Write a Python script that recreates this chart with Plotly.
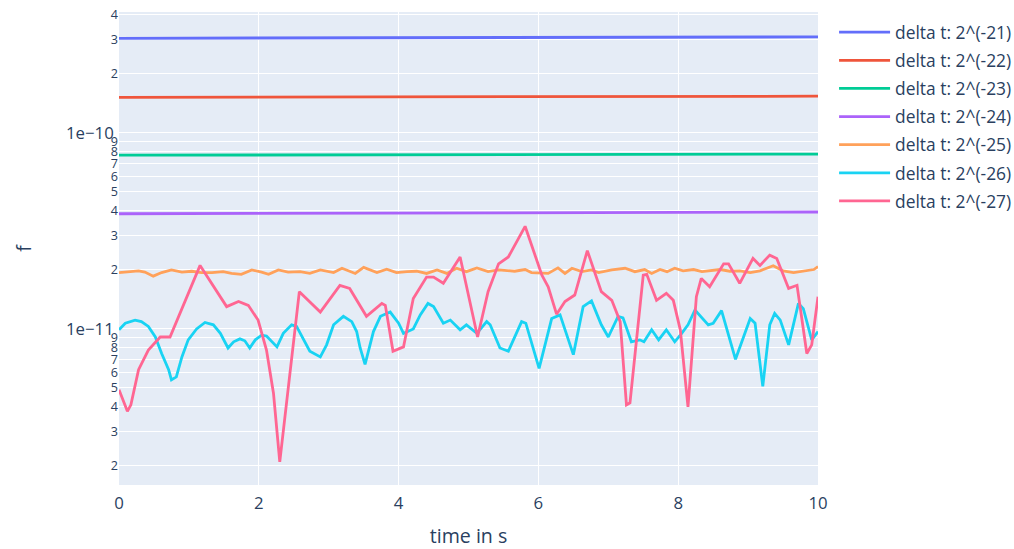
import plotly.graph_objects as go

# ---- data ----
names = ["delta t: 2^(-21)", "delta t: 2^(-22)", "delta t: 2^(-23)", "delta t: 2^(-24)",
         "delta t: 2^(-25)", "delta t: 2^(-26)", "delta t: 2^(-27)"]
colors = ["#636efa", "#EF553B", "#00cc96", "#ab63fa", "#FFA15A", "#19d3f3", "#FF6692"]

t21 = [0, 5, 10]
f21 = [3.04e-10, 3.065e-10, 3.09e-10]

t22 = [0, 5, 10]
f22 = [1.52e-10, 1.53e-10, 1.54e-10]

t23 = [0, 5, 10]
f23 = [7.70e-11, 7.75e-11, 7.80e-11]

t24 = [0, 1, 2, 2.5, 3.5, 4.5, 5, 6, 7, 8, 9, 10]
f24 = [3.87e-11, 3.88e-11, 3.89e-11, 3.88e-11, 3.90e-11, 3.92e-11, 3.90e-11,
       3.91e-11, 3.92e-11, 3.93e-11, 3.94e-11, 3.95e-11]

t25 = [0, 0.13, 0.28, 0.37, 0.49, 0.61, 0.75, 0.90, 1.04, 1.18, 1.33, 1.49, 1.61, 1.75,
       1.90, 2.04, 2.14, 2.28, 2.42, 2.59, 2.73, 2.88, 3.07, 3.19, 3.38, 3.50, 3.69,
       3.83, 3.97, 4.12, 4.26, 4.40, 4.55, 4.69, 4.83, 4.97, 5.12, 5.28, 5.43, 5.66,
       5.81, 5.90, 6.14, 6.28, 6.38, 6.48, 6.62, 6.76, 6.86, 7.05, 7.24, 7.38, 7.52,
       7.62, 7.74, 7.84, 7.95, 8.07, 8.22, 8.34, 8.46, 8.60, 8.74, 8.88, 9.03, 9.17,
       9.36, 9.50, 9.65, 9.79, 9.94, 10.0]
f25 = [1.94e-11, 1.96e-11, 1.98e-11, 1.95e-11, 1.86e-11, 1.94e-11, 2.00e-11, 1.95e-11,
       1.97e-11, 1.94e-11, 1.94e-11, 1.96e-11, 1.92e-11, 1.90e-11, 2.00e-11, 1.95e-11,
       1.90e-11, 2.00e-11, 1.95e-11, 1.96e-11, 1.92e-11, 2.00e-11, 1.94e-11, 2.04e-11,
       1.92e-11, 2.06e-11, 1.94e-11, 2.02e-11, 1.94e-11, 1.96e-11, 1.97e-11, 1.92e-11,
       2.00e-11, 1.92e-11, 2.04e-11, 1.96e-11, 2.05e-11, 1.96e-11, 2.00e-11, 1.97e-11,
       2.01e-11, 1.94e-11, 1.92e-11, 2.05e-11, 1.92e-11, 2.04e-11, 1.96e-11, 2.00e-11,
       1.94e-11, 2.00e-11, 2.04e-11, 1.96e-11, 2.01e-11, 1.92e-11, 2.01e-11, 1.96e-11,
       2.04e-11, 1.98e-11, 2.01e-11, 1.96e-11, 1.98e-11, 2.01e-11, 1.97e-11, 1.98e-11,
       1.94e-11, 1.98e-11, 2.10e-11, 1.98e-11, 1.94e-11, 1.98e-11, 2.01e-11, 2.08e-11]

t26 = [0, 0.09, 0.23, 0.32, 0.42, 0.52, 0.61, 0.71, 0.75, 0.82, 0.90, 0.99, 1.11, 1.23,
       1.35, 1.45, 1.56, 1.64, 1.73, 1.80, 1.87, 1.95, 2.04, 2.11, 2.26, 2.35, 2.47,
       2.54, 2.73, 2.88, 2.97, 3.07, 3.21, 3.33, 3.40, 3.45, 3.52, 3.64, 3.74, 3.88,
       4.00, 4.07, 4.21, 4.31, 4.42, 4.50, 4.64, 4.74, 4.88, 4.97, 5.12, 5.26,
       5.31, 5.45, 5.57, 5.76, 5.82, 6.01, 6.19, 6.31, 6.50, 6.64, 6.76, 6.90, 7.00,
       7.14, 7.21, 7.33, 7.45, 7.51, 7.62, 7.72, 7.83, 7.95, 8.05, 8.14, 8.24, 8.43,
       8.50, 8.62, 8.82, 9.03, 9.10, 9.21, 9.31, 9.38, 9.46, 9.58, 9.72, 9.79, 9.91, 10.0]
f26 = [9.9e-12, 1.07e-11, 1.11e-11, 1.09e-11, 1.03e-11, 9.1e-12, 7.5e-12, 6.2e-12,
       5.5e-12, 5.7e-12, 7.2e-12, 8.8e-12, 1.0e-11, 1.08e-11, 1.05e-11, 9.5e-12,
       8.0e-12, 8.6e-12, 8.9e-12, 8.7e-12, 8.0e-12, 8.8e-12, 9.3e-12, 9.2e-12,
       8.1e-12, 9.5e-12, 1.05e-11, 1.03e-11, 7.7e-12, 7.2e-12, 8.3e-12, 1.05e-11,
       1.16e-11, 1.09e-11, 9.7e-12, 8.0e-12, 6.6e-12, 9.7e-12, 1.16e-11, 1.22e-11,
       1.07e-11, 9.5e-12, 1.0e-11, 1.18e-11, 1.35e-11, 1.30e-11, 1.07e-11, 1.11e-11,
       9.9e-12, 1.05e-11, 9.5e-12, 1.09e-11, 1.05e-11, 8.0e-12, 7.7e-12, 1.09e-11,
       1.07e-11, 6.3e-12, 1.13e-11, 1.18e-11, 7.4e-12, 1.30e-11, 1.39e-11, 1.05e-11,
       9.1e-12, 1.16e-11, 1.14e-11, 8.6e-12, 8.8e-12, 8.6e-12, 9.9e-12, 8.8e-12,
       9.9e-12, 8.6e-12, 9.5e-12, 1.05e-11, 1.25e-11, 1.05e-11, 1.07e-11, 1.24e-11,
       7.0e-12, 1.13e-11, 1.07e-11, 5.1e-12, 1.05e-11, 1.20e-11, 1.11e-11, 8.3e-12,
       1.35e-11, 1.27e-11, 8.8e-12, 9.7e-12]

t27 = [0, 0.12, 0.17, 0.28, 0.42, 0.59, 0.73, 1.16, 1.54, 1.71, 1.85, 1.99, 2.11, 2.21,
       2.30, 2.58, 2.88, 3.16, 3.30, 3.54, 3.76, 3.81, 3.92, 4.07, 4.21, 4.40, 4.50,
       4.64, 4.88, 5.13, 5.28, 5.43, 5.57, 5.81, 6.05, 6.14, 6.26, 6.38, 6.52, 6.70,
       6.90, 7.05, 7.17, 7.26, 7.31, 7.50, 7.55, 7.69, 7.83, 7.93, 8.03, 8.14, 8.26,
       8.33, 8.45, 8.65, 8.72, 8.88, 9.07, 9.17, 9.31, 9.41, 9.58, 9.70, 9.84, 9.91, 10.0]
f27 = [4.9e-12, 3.8e-12, 4.1e-12, 6.2e-12, 7.8e-12, 9.1e-12, 9.1e-12, 2.11e-11,
       1.30e-11, 1.38e-11, 1.32e-11, 1.11e-11, 7.8e-12, 4.7e-12, 2.1e-12, 1.55e-11,
       1.22e-11, 1.67e-11, 1.61e-11, 1.16e-11, 1.35e-11, 1.32e-11, 7.7e-12, 8.1e-12,
       1.43e-11, 1.84e-11, 1.84e-11, 1.71e-11, 2.33e-11, 9.1e-12, 1.55e-11, 2.15e-11,
       2.33e-11, 3.34e-11, 1.88e-11, 1.64e-11, 1.19e-11, 1.38e-11, 1.49e-11, 2.51e-11,
       1.55e-11, 1.40e-11, 1.09e-11, 4.1e-12, 4.2e-12, 1.88e-11, 1.90e-11, 1.40e-11,
       1.52e-11, 1.40e-11, 9.9e-12, 4.0e-12, 1.46e-11, 1.81e-11, 1.64e-11, 2.15e-11,
       2.15e-11, 1.71e-11, 2.29e-11, 2.11e-11, 2.38e-11, 2.29e-11, 1.61e-11, 1.67e-11,
       7.5e-12, 8.3e-12, 1.46e-11]

series_t = [t21, t22, t23, t24, t25, t26, t27]
series_f = [f21, f22, f23, f24, f25, f26, f27]

fig = go.Figure()
for i, (name, c, tx, fy) in enumerate(zip(names, colors, series_t, series_f)):
    fig.add_trace(go.Scatter(x=tx, y=fy, mode="lines", name=name,
                             line=dict(color=c, width=2.8), legendgroup=str(i)))

fig.update_layout(
    template="plotly",
    width=1014, height=549,
    margin=dict(l=119, r=196, t=12, b=64, autoexpand=False),
    font=dict(size=16.8),
    legend=dict(font=dict(size=17.4), itemwidth=51, tracegroupgap=2.5,
                x=1.023, y=0.995),
    xaxis=dict(title=dict(text="time in s", font=dict(size=19.6), standoff=27),
               range=[0, 10], gridwidth=1.4, zeroline=False, automargin=False,
               ticklabelstandoff=6),
    yaxis=dict(title=dict(text="f", font=dict(size=19.6), standoff=29), type="log",
               range=[-11.796, -9.383], dtick="D1", exponentformat="e",
               gridwidth=1.4, automargin=False),
)

fig.write_html("out.html")
